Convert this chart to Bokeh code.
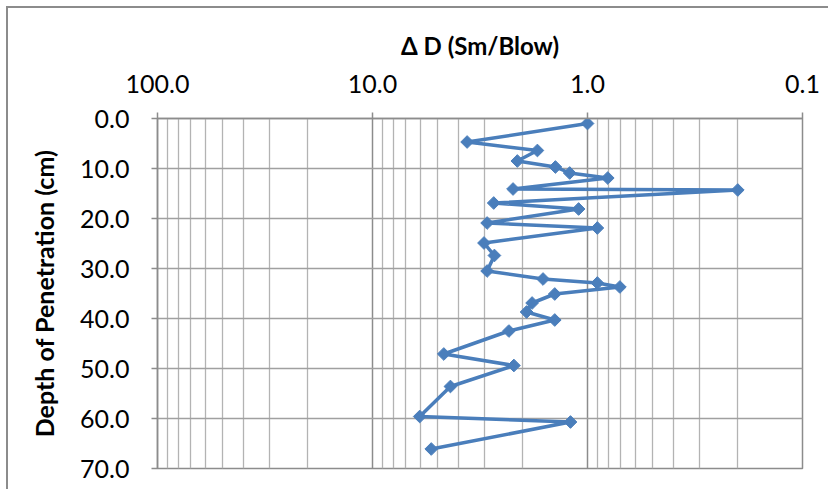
import numpy as np
from bokeh.plotting import figure
from bokeh.models import Range1d, FixedTicker, CustomJSTickFormatter, ColumnDataSource
from bokeh.embed import file_html
from bokeh.resources import INLINE

# Data
depth_cm = [1.0, 4.7, 6.4, 8.5, 9.7, 10.9, 11.9, 14.1, 14.3, 16.9, 18.1, 20.9, 21.9, 24.9,
            27.4, 30.5, 32.1, 32.9, 33.7, 35.1, 36.9, 38.7, 40.3, 42.5, 47.1, 49.4, 53.6,
            59.6, 60.7, 66.1]
delta_d = [1.00, 3.63, 1.71, 2.12, 1.41, 1.21, 0.805, 2.22, 0.20, 2.73, 1.10, 2.93, 0.90, 3.03,
           2.71, 2.93, 1.61, 0.90, 0.707, 1.42, 1.81, 1.92, 1.42, 2.32, 4.66, 2.20, 4.34,
           6.03, 1.20, 5.33]
x_ticks = [100, 10, 1, 0.1]
x_minor = [m * d for d in [0.1, 1, 10] for m in range(2, 10)]
y_ticks = [0, 10, 20, 30, 40, 50, 60, 70]

src = ColumnDataSource(dict(x=delta_d, y=depth_cm))

OFF = 8  # chart border offset (margin + border width)

p = figure(width=830 - OFF, height=491 - OFF, x_axis_type="log", x_axis_location="above",
           x_range=Range1d(100, 0.1), y_range=Range1d(70, 0),
           min_border_left=157 - OFF, min_border_right=28, min_border_top=118 - OFF,
           min_border_bottom=23,
           output_backend="svg", toolbar_location=None)
p.margin = (6, 0, 0, 6)
p.styles = {"border-left": "2px solid #8c8c8c", "border-top": "2px solid #8c8c8c"}

p.background_fill_color = "white"
p.border_fill_color = "white"
p.outline_line_color = "#8c8c8c"
p.outline_line_width = 1.5

fmt = CustomJSTickFormatter(code="return tick.toFixed(1)")

xa = p.xaxis[0]
xa.ticker = FixedTicker(ticks=x_ticks, minor_ticks=x_minor)
xa.formatter = fmt
xa.axis_label = "Δ D (Sm/Blow)"
ya = p.yaxis[0]
ya.ticker = FixedTicker(ticks=y_ticks)
ya.formatter = fmt
ya.axis_label = "Depth of Penetration (cm)"

for ax in (xa, ya):
    ax.axis_line_color = "#8c8c8c"
    ax.axis_line_width = 1.5
    ax.major_tick_line_color = "#8c8c8c"
    ax.major_tick_line_width = 1.5
    ax.major_tick_out = 6
    ax.major_tick_in = 0
    ax.minor_tick_out = 0
    ax.minor_tick_in = 0
    ax.major_label_text_font = "Lato"
    ax.major_label_text_font_size = "25px"
    ax.major_label_text_color = "black"
    ax.axis_label_text_font = "Lato"
    ax.axis_label_text_font_style = "bold"
    ax.axis_label_text_font_size = "25px"
    ax.axis_label_text_color = "black"

xa.axis_label_text_font_size = "24px"
xa.major_label_standoff = 20
xa.axis_label_standoff = 12
ya.major_label_standoff = 22
ya.axis_label_standoff = 18

xg = p.xgrid[0]
xg.ticker = xa.ticker
xg.grid_line_color = "#8c8c8c"
xg.grid_line_width = 1.5
xg.minor_grid_line_color = "#b3b3b3"
xg.minor_grid_line_width = 1.3
yg = p.ygrid[0]
yg.ticker = ya.ticker
yg.grid_line_color = "#a0a0a0"
yg.grid_line_width = 1.6

p.line("x", "y", source=src, line_color="#4a7ebb", line_width=3.5)
p.scatter("x", "y", source=src, marker="square", angle=np.pi / 4, size=9,
          fill_color="#4a7ebb", line_color="#4a7ebb")

open("out.html", "w").write(file_html(p, INLINE))
